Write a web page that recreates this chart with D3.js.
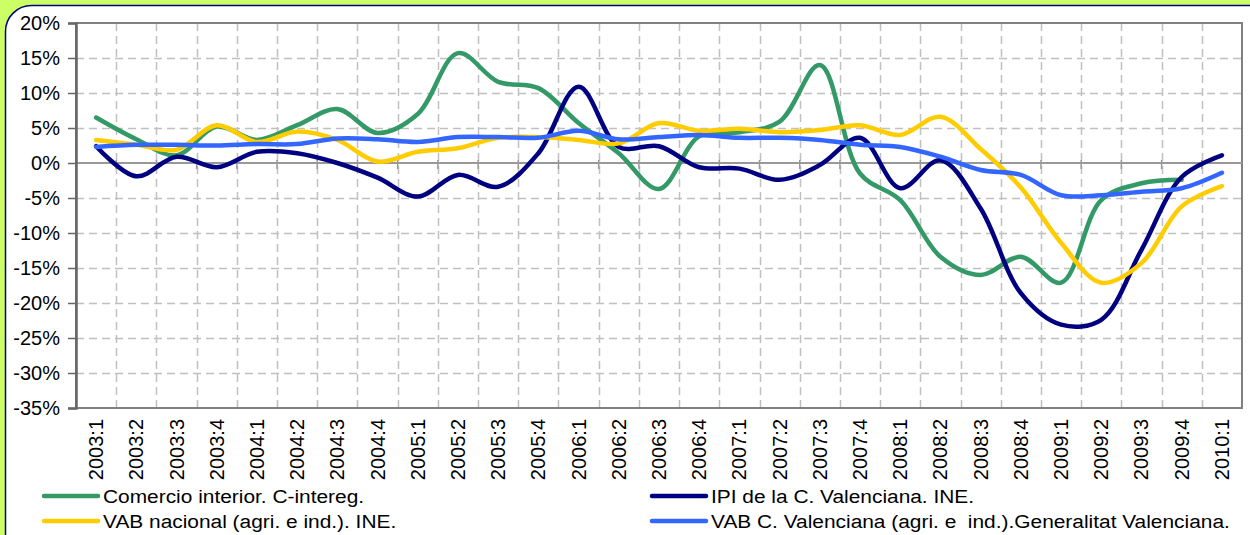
<!DOCTYPE html>
<html>
<head>
<meta charset="utf-8">
<script src="https://cdn.jsdelivr.net/npm/d3@7"></script>
<style>
  html, body { margin: 0; padding: 0; background: #ccff66; }
  svg { display: block; font-family: "Liberation Sans", Arial, sans-serif; }
</style>
</head>
<body>
<div id="chart"></div>
<script>
const quarters = ["2003:1","2003:2","2003:3","2003:4","2004:1","2004:2","2004:3","2004:4",
    "2005:1","2005:2","2005:3","2005:4","2006:1","2006:2","2006:3","2006:4",
    "2007:1","2007:2","2007:3","2007:4","2008:1","2008:2","2008:3","2008:4",
    "2009:1","2009:2","2009:3","2009:4","2010:1"];

const yTicks = [20, 15, 10, 5, 0, -5, -10, -15, -20, -25, -30, -35];

const comercio = [6.5, 3.4, 1.1, 5.2, 3.3, 5.4, 7.7, 4.3, 7.0, 15.7, 11.6, 10.7, 5.7, 1.4, -3.7, 3.8,
    4.4, 5.9, 14.0, -1.5, -5.3, -13.4, -16.0, -13.4, -17.1, -5.3, -2.9, -2.4, null];
const ipi = [2.4, -1.9, 0.9, -0.6, 1.6, 1.4, 0.0, -2.1, -4.8, -1.7, -3.4, 1.4, 10.9, 2.3, 2.4, -0.6,
    -0.8, -2.4, -0.3, 3.6, -3.6, 0.4, -6.5, -18.6, -23.1, -22.4, -12.4, -2.0, 1.1];
const vabNacional = [3.3, 2.6, 1.9, 5.4, 3.0, 4.5, 3.3, 0.2, 1.6, 2.1, 3.6, 3.7, 3.3, 2.8, 5.7, 4.6,
    4.9, 4.4, 4.7, 5.4, 4.0, 6.6, 2.0, -3.5, -11.4, -17.1, -14.3, -6.2, -3.3];
const vabCV = [2.3, 2.6, 2.6, 2.5, 2.7, 2.7, 3.5, 3.4, 3.0, 3.7, 3.7, 3.6, 4.6, 3.4, 3.7, 4.0,
    3.6, 3.6, 3.3, 2.6, 2.3, 0.9, -1.0, -1.7, -4.6, -4.6, -4.1, -3.6, -1.4];

const seriesNames = ["Comercio interior. C-intereg.", "IPI de la C. Valenciana. INE.",
    "VAB nacional (agri. e ind.). INE.", "VAB C. Valenciana (agri. e  ind.).Generalitat Valenciana."];
const seriesColors = ["#339966", "#000080", "#ffcc00", "#3366ff"];

(function () {
    const w = 1250, h = 535;
    const plot = { left: 76, right: 1242, top: 23, bottom: 408 };

    const svg = d3.select("#chart")
        .append("svg")
        .attr("width", w)
        .attr("height", h);

    // background card
    svg.append("rect")
        .attr("x", 0).attr("y", 0).attr("width", w).attr("height", h)
        .attr("fill", "#ccff66");
    svg.append("rect")
        .attr("x", 5.5).attr("y", 5.5).attr("width", w + 20).attr("height", h + 20)
        .attr("rx", 26).attr("ry", 26)
        .attr("fill", "#ffffff")
        .attr("stroke", "#000080")
        .attr("stroke-width", 1.5);

    const xScale = d3.scaleBand()
        .domain(quarters)
        .range([plot.left, plot.right])
        .padding(0);

    const yScale = d3.scaleLinear()
        .domain([-35, 20])
        .range([plot.bottom, plot.top]);

    const bw = xScale.bandwidth();
    const boundaries = quarters.slice(1).map(q => xScale(q));

    // gridlines
    svg.append("g")
        .selectAll("line")
        .data(yTicks.filter(t => t !== 0 && t !== 20 && t !== -35))
        .enter()
        .append("line")
        .attr("x1", plot.left).attr("x2", plot.right)
        .attr("y1", d => Math.round(yScale(d)) + 0.5)
        .attr("y2", d => Math.round(yScale(d)) + 0.5)
        .attr("stroke", "#c0c0c0")
        .attr("stroke-width", 1.5)
        .attr("stroke-dasharray", "8,5");

    svg.append("g")
        .selectAll("line")
        .data(boundaries)
        .enter()
        .append("line")
        .attr("x1", d => Math.round(d) + 0.5).attr("x2", d => Math.round(d) + 0.5)
        .attr("y1", plot.top).attr("y2", plot.bottom)
        .attr("stroke", "#c0c0c0")
        .attr("stroke-width", 1.5)
        .attr("stroke-dasharray", "8,5");

    // plot frame
    svg.append("rect")
        .attr("x", plot.left).attr("y", plot.top)
        .attr("width", plot.right - plot.left).attr("height", plot.bottom - plot.top)
        .attr("fill", "none")
        .attr("stroke", "#808080")
        .attr("stroke-width", 2);

    // zero line with category ticks
    const y0 = yScale(0);
    svg.append("line")
        .attr("x1", plot.left).attr("x2", plot.right)
        .attr("y1", y0).attr("y2", y0)
        .attr("stroke", "#999999").attr("stroke-width", 2);
    svg.append("g")
        .selectAll("line")
        .data(boundaries)
        .enter()
        .append("line")
        .attr("x1", d => d).attr("x2", d => d)
        .attr("y1", y0 - 3).attr("y2", y0 + 6)
        .attr("stroke", "#999999").attr("stroke-width", 1.5);

    // y axis
    const yAxis = svg.append("g")
        .attr("transform", `translate(${plot.left},0)`)
        .call(d3.axisLeft(yScale).tickValues(yTicks).tickSize(8).tickPadding(8).tickFormat(d => d + "%"));
    yAxis.select(".domain").attr("stroke", "#666666").attr("stroke-width", 2.5);
    yAxis.selectAll(".tick line").attr("stroke", "#666666").attr("stroke-width", 1.5);
    yAxis.selectAll(".tick text")
        .attr("font-size", 20)
        .attr("fill", "#000")
        .attr("font-family", "Liberation Sans, Arial, sans-serif");

    // x labels
    svg.append("g")
        .selectAll("text")
        .data(quarters)
        .enter()
        .append("text")
        .attr("transform", d => `translate(${xScale(d) + bw / 2},419) rotate(-90)`)
        .attr("text-anchor", "end")
        .attr("dy", "0.35em")
        .attr("font-size", 20)
        .attr("fill", "#000")
        .text(d => d);

    // series
    const allSeries = [comercio, ipi, vabNacional, vabCV];
    const line = d3.line()
        .defined(d => d != null)
        .x((d, i) => xScale(quarters[i]) + bw / 2)
        .y(d => yScale(d))
        .curve(d3.curveCatmullRom.alpha(0.5));

    svg.append("g")
        .selectAll("path")
        .data(allSeries)
        .enter()
        .append("path")
        .attr("d", d => line(d))
        .attr("fill", "none")
        .attr("stroke", (d, i) => seriesColors[i])
        .attr("stroke-width", 4.5)
        .attr("stroke-linejoin", "round")
        .attr("stroke-linecap", "round");

    // legend
    const legendPos = [
        { x: 44, y: 496 },
        { x: 652, y: 496 },
        { x: 44, y: 521 },
        { x: 652, y: 521 }
    ];
    const legend = svg.append("g")
        .selectAll("g")
        .data(seriesNames)
        .enter()
        .append("g")
        .attr("transform", (d, i) => `translate(${legendPos[i].x},${legendPos[i].y})`);
    legend.append("line")
        .attr("x1", 0).attr("x2", 54)
        .attr("y1", 0).attr("y2", 0)
        .attr("stroke", (d, i) => seriesColors[i])
        .attr("stroke-width", 4.5)
        .attr("stroke-linecap", "round");
    legend.append("text")
        .attr("x", 59)
        .attr("y", 7)
        .attr("font-size", 18)
        .attr("fill", "#000")
        .style("white-space", "pre")
        .text(d => d)
        .each(function () {
            // the original legend font is drawn a little wider than Arial
            const len = this.getComputedTextLength();
            d3.select(this).attr("textLength", len * 1.16).attr("lengthAdjust", "spacingAndGlyphs");
        });
})();
</script>
</body>
</html>
